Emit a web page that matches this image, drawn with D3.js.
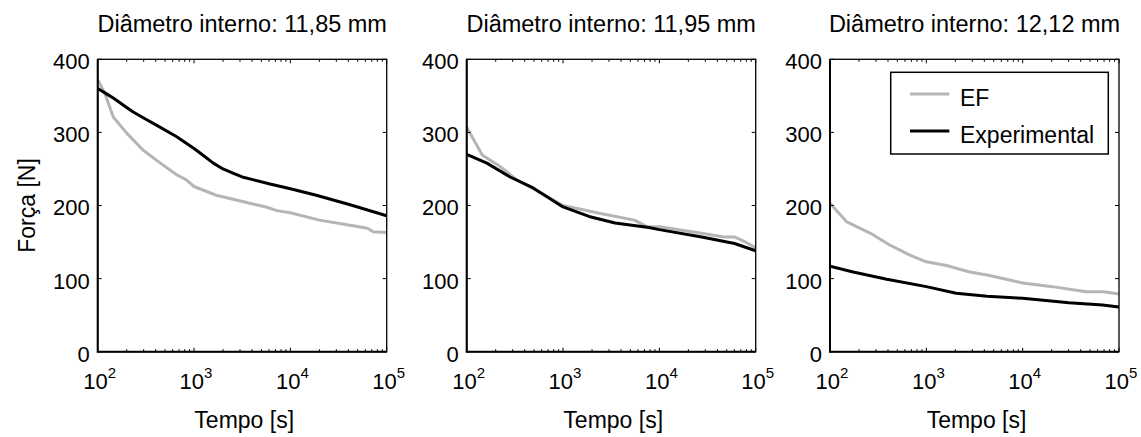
<!DOCTYPE html>
<html>
<head>
<meta charset="utf-8">
<script src="https://cdn.jsdelivr.net/npm/d3@7"></script>
<style>
  body { margin: 0; background: #fff; }
  svg text { font-family: "Liberation Sans", Arial, Helvetica, sans-serif; fill: #000; }
</style>
</head>
<body>
<svg id="svg" width="1141" height="437"></svg>
<script>
// Panel titles
const titles = ["Diâmetro interno: 11,85 mm", "Diâmetro interno: 11,95 mm", "Diâmetro interno: 12,12 mm"];

// Panel 1 (11,85 mm)
const p1ExpTime = [100, 126, 145, 200, 234, 316, 407, 661, 1000, 1260, 1585, 2000, 2570, 3160, 4170, 6300, 10000, 18600, 41700, 100000];
const p1ExpForce = [360, 352, 347, 334, 328, 318, 310, 294, 278, 268, 258, 250, 244, 239, 235, 229, 223, 214, 201, 186];
const p1EfTime = [100, 119, 145, 200, 295, 447, 661, 832, 1000, 1700, 3800, 5600, 7240, 10000, 20000, 41700, 63100, 72400, 100000];
const p1EfForce = [372, 353, 321, 299, 276, 258, 242, 235, 226, 214, 203, 198, 193, 190, 180, 173, 169, 164, 163];

// Panel 2 (11,95 mm)
const p2ExpTime = [100, 162, 282, 490, 1000, 1860, 3470, 7760, 10000, 27500, 60300, 100000];
const p2ExpForce = [270, 258, 239, 224, 198, 185, 176, 170, 167, 157, 148, 138];
const p2EfTime = [100, 145, 224, 331, 490, 1000, 2450, 5500, 7410, 10000, 27500, 46800, 60300, 75900, 100000];
const p2EfForce = [307, 269, 253, 235, 223, 200, 189, 180, 171, 171, 162, 157, 157, 151, 142];

// Panel 3 (12,12 mm)
const p3ExpTime = [100, 174, 389, 1000, 2040, 4270, 10000, 30200, 67600, 100000];
const p3ExpForce = [117, 109, 99, 89, 80, 76, 73, 67, 64, 61];
const p3EfTime = [100, 148, 263, 417, 676, 1000, 1620, 2820, 4270, 6760, 10000, 20400, 45700, 69200, 100000];
const p3EfForce = [203, 178, 162, 146, 132, 123, 118, 109, 105, 99, 94, 89, 82, 82, 79];

// Axis ticks
const yTicks = [0, 100, 200, 300, 400];
const xExponents = [2, 3, 4, 5];

// Legend
const seriesNames = ["EF", "Experimental"];
const colors = { "EF": "#b5b5b5", "Experimental": "#000000" };

const attr = {
  panelLefts: [97.7, 466.7, 830],
  top: 59.3,
  width: 289,
  height: 292.4
};

const panels = [
  { title: titles[0], ef: [p1EfTime, p1EfForce], exp: [p1ExpTime, p1ExpForce] },
  { title: titles[1], ef: [p2EfTime, p2EfForce], exp: [p2ExpTime, p2ExpForce] },
  { title: titles[2], ef: [p3EfTime, p3EfForce], exp: [p3ExpTime, p3ExpForce], legend: true }
];

const svg = d3.select("svg#svg");
svg.append("rect").attr("width", 1141).attr("height", 437).attr("fill", "#fff");

var translate = function(a, b) {
  return "translate(" + a + "," + b + ")";
};

var zip = function(t, f) {
  return t.map((d, i) => ({ t: d, f: f[i] }));
};

panels.forEach(function(p, idx) {
  const g = svg.append("g").attr("transform", translate(attr.panelLefts[idx], attr.top));
  const x = d3.scaleLog().domain([100, 100000]).range([0, attr.width]);
  const y = d3.scaleLinear().domain([0, 400]).range([attr.height, 0]);

  const line = d3.line().x(d => x(d.t)).y(d => y(d.f));

  // clip so lines don't spill beyond the box
  const clipId = "clip" + idx;
  g.append("clipPath").attr("id", clipId)
    .append("rect").attr("width", attr.width).attr("height", attr.height);

  const lines = g.append("g").attr("clip-path", "url(#" + clipId + ")");
  lines.append("path")
    .datum(zip(p.ef[0], p.ef[1]))
    .attr("d", line)
    .attr("fill", "none")
    .attr("stroke", colors["EF"])
    .attr("stroke-width", 3)
    .attr("stroke-linejoin", "round");
  lines.append("path")
    .datum(zip(p.exp[0], p.exp[1]))
    .attr("d", line)
    .attr("fill", "none")
    .attr("stroke", colors["Experimental"])
    .attr("stroke-width", 3)
    .attr("stroke-linejoin", "round");

  // inward ticks on all four sides
  const ticks = g.append("g").attr("stroke", "#000").attr("stroke-width", 1);
  yTicks.forEach(function(v) {
    ticks.append("line").attr("x1", 0).attr("x2", 4).attr("y1", y(v)).attr("y2", y(v));
    ticks.append("line").attr("x1", attr.width).attr("x2", attr.width - 4).attr("y1", y(v)).attr("y2", y(v));
  });
  const minor = [];
  for (let e = 2; e < 5; e++) {
    for (let m = 2; m <= 9; m++) minor.push(m * Math.pow(10, e));
  }
  minor.forEach(function(v) {
    ticks.append("line").attr("x1", x(v)).attr("x2", x(v)).attr("y1", attr.height).attr("y2", attr.height - 2.5);
    ticks.append("line").attr("x1", x(v)).attr("x2", x(v)).attr("y1", 0).attr("y2", 2.5);
  });
  xExponents.forEach(function(e) {
    const v = Math.pow(10, e);
    ticks.append("line").attr("x1", x(v)).attr("x2", x(v)).attr("y1", attr.height).attr("y2", attr.height - 4);
    ticks.append("line").attr("x1", x(v)).attr("x2", x(v)).attr("y1", 0).attr("y2", 4);
  });

  // box
  g.append("rect")
    .attr("width", attr.width).attr("height", attr.height)
    .attr("fill", "none").attr("stroke", "#000").attr("stroke-width", 1.3);
  g.append("path")
    .attr("d", "M0,0V" + attr.height + "H" + attr.width)
    .attr("fill", "none").attr("stroke", "#000").attr("stroke-width", 2);

  // y tick labels
  g.selectAll("text.ytick")
    .data(yTicks)
    .enter()
    .append("text")
    .attr("class", "ytick")
    .attr("x", -8)
    .attr("y", d => y(d) + 10)
    .attr("text-anchor", "end")
    .style("font-size", "22px")
    .text(d => d);

  // x tick labels 10^n
  const xl = g.selectAll("text.xtick")
    .data(xExponents)
    .enter()
    .append("text")
    .attr("class", "xtick")
    .attr("x", d => x(Math.pow(10, d)) + 2)
    .attr("y", attr.height + 37)
    .attr("text-anchor", "middle")
    .style("font-size", "22px");
  xl.append("tspan").text("10");
  xl.append("tspan").attr("dy", -11).style("font-size", "15px").text(d => d);

  // title
  g.append("text")
    .attr("x", attr.width / 2)
    .attr("y", 31.7 - attr.top)
    .attr("text-anchor", "middle")
    .style("font-size", "23.5px")
    .text(p.title);

  // x label
  g.append("text")
    .attr("x", attr.width / 2 + 2)
    .attr("y", 428 - attr.top)
    .attr("text-anchor", "middle")
    .style("font-size", "23px")
    .text("Tempo [s]");

  if (idx === 0) {
    g.append("text")
      .attr("transform", translate(35 - attr.panelLefts[0], attr.height / 2) + " rotate(-90)")
      .attr("text-anchor", "middle")
      .style("font-size", "23px")
      .text("Força [N]");
  }

  if (p.legend) {
    const lg = svg.append("g").attr("class", "legend");
    lg.append("rect")
      .attr("x", 890.7).attr("y", 72.3)
      .attr("width", 217.6).attr("height", 81.7)
      .attr("fill", "#fff").attr("stroke", "#000").attr("stroke-width", 1.5);
    const rows = lg.selectAll("g.row")
      .data(seriesNames)
      .enter()
      .append("g")
      .attr("class", "row")
      .attr("transform", (d, i) => translate(0, i * 37));
    rows.append("line")
      .attr("x1", 910).attr("x2", 949.3)
      .attr("y1", 94).attr("y2", 94)
      .attr("stroke", d => colors[d])
      .attr("stroke-width", 3);
    rows.append("text")
      .attr("x", 960)
      .attr("y", 105.5)
      .style("font-size", "23px")
      .text(d => d);
  }
});
</script>
</body>
</html>
